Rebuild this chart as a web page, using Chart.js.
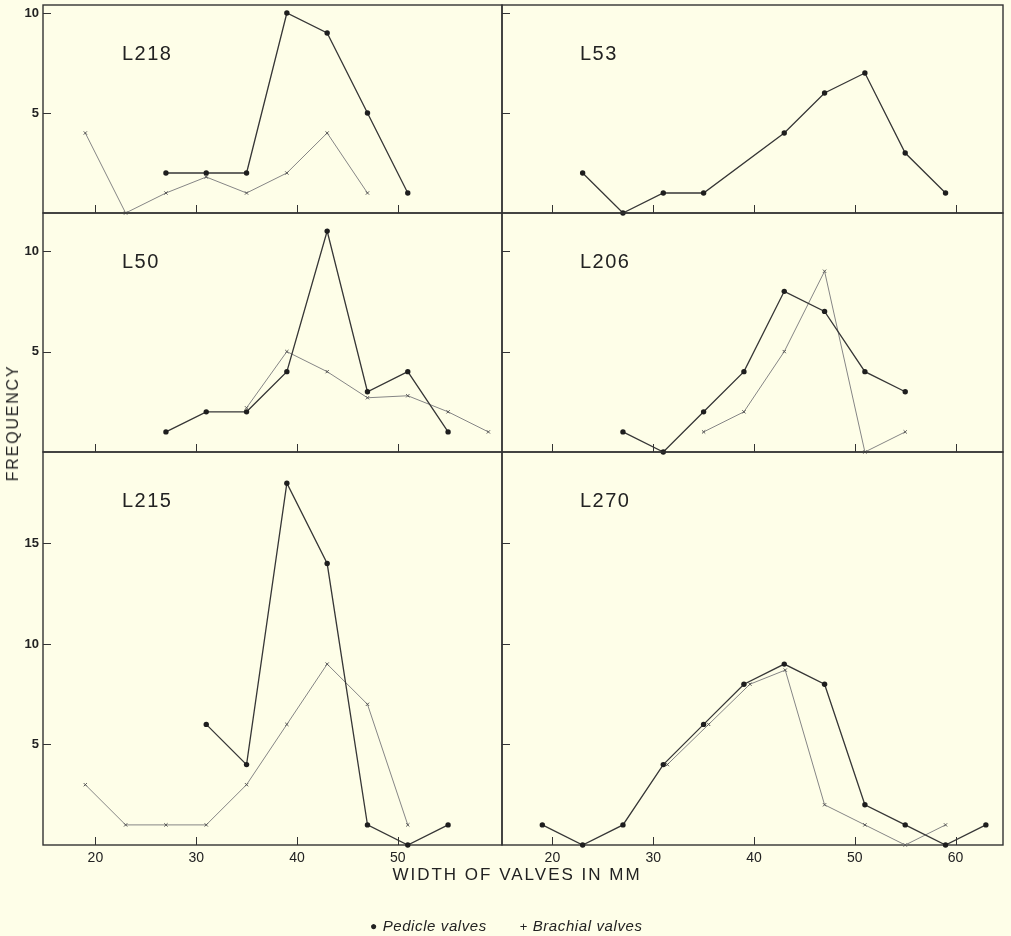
<!DOCTYPE html>
<html>
<head>
<meta charset="utf-8">
<script src="https://cdn.jsdelivr.net/npm/chart.js@4.4.0/dist/chart.umd.min.js"></script>
<style>
  body { margin: 0; background: #fefee8; }
  #fig { position: relative; width: 1011px; height: 936px; overflow: hidden;
         font-family: "Liberation Sans", Arial, sans-serif; color: #222; }
  #fig canvas { position: absolute; }
  .txt { position: absolute; white-space: nowrap; }
</style>
</head>
<body>
<div id="fig">
  <canvas id="c218"></canvas>
  <canvas id="c53"></canvas>
  <canvas id="c50"></canvas>
  <canvas id="c206"></canvas>
  <canvas id="c215"></canvas>
  <canvas id="c270"></canvas>

  <div class="txt" style="left:12.5px;top:423px;font-size:16px;letter-spacing:1.8px;transform:translate(-50%,-50%) rotate(-90deg);">FREQUENCY</div>
  <div class="txt" style="left:517px;top:875px;font-size:17px;letter-spacing:2px;transform:translate(-50%,-50%);">WIDTH OF VALVES IN MM</div>
  <div class="txt" style="left:370px;top:917px;font-size:15px;font-style:italic;letter-spacing:0.6px;">
    <span style="font-style:normal;font-size:12px;position:relative;top:-1px;">&#9679;</span>&nbsp;Pedicle valves
    <span style="display:inline-block;width:28px"></span><span style="font-style:normal;font-size:13px;">+</span>&nbsp;Brachial valves
  </div>
</div>

<script>
/* ---------- data: frequency by valve width (mm) ---------- */
const l218PedW = [27, 31, 35, 39, 43, 47, 51];
const l218Ped  = [2, 2, 2, 10, 9, 5, 1];
const l218BraW = [19, 23, 27, 31, 35, 39, 43, 47];
const l218Bra  = [4, 0, 1, 1.8, 1, 2, 4, 1];

const l53PedW = [23, 27, 31, 35, 43, 47, 51, 55, 59];
const l53Ped  = [2, 0, 1, 1, 4, 6, 7, 3, 1];

const l50PedW = [27, 31, 35, 39, 43, 47, 51, 55];
const l50Ped  = [1, 2, 2, 4, 11, 3, 4, 1];
const l50BraW = [35, 39, 43, 47, 51, 55, 59];
const l50Bra  = [2.2, 5, 4, 2.7, 2.8, 2, 1];

const l206PedW = [27, 31, 35, 39, 43, 47, 51, 55];
const l206Ped  = [1, 0, 2, 4, 8, 7, 4, 3];
const l206BraW = [35, 39, 43, 47, 51, 55];
const l206Bra  = [1, 2, 5, 9, 0, 1];

const l215PedW = [31, 35, 39, 43, 47, 51, 55];
const l215Ped  = [6, 4, 18, 14, 1, 0, 1];
const l215BraW = [19, 23, 27, 31, 35, 39, 43, 47, 51];
const l215Bra  = [3, 1, 1, 1, 3, 6, 9, 7, 1];

const l270PedW = [19, 23, 27, 31, 35, 39, 43, 47, 51, 55, 59, 63];
const l270Ped  = [1, 0, 1, 4, 6, 8, 9, 8, 2, 1, 0, 1];
const l270BraW = [31.4, 35.5, 39.6, 43.1, 47, 51, 55, 59];
const l270Bra  = [4, 6, 8, 8.7, 2, 1, 0, 1];

/* ticks */
const xTicksLeft  = [20, 30, 40, 50];
const xTicksRight = [20, 30, 40, 50, 60];
const yTicksTop = [5, 10];
const yTicksMid = [5, 10];
const yTicksLow = [5, 10, 15];

/* ---------- layout ---------- */
Chart.defaults.font.family = '"Liberation Sans", Arial, sans-serif';
Chart.defaults.color = '#222';

const COLS = {
  left:  { left: 0,   width: 505, padL: 0, xMin: 14.8, xMax: 60.35, xTicks: xTicksLeft },
  right: { left: 499, width: 507, padL: 3, xMin: 15.0, xMax: 64.7,  xTicks: xTicksRight },
};
const ROWS = {
  top: { top: 2,   height: 214, padB: 3, yMax: 10.4,  yTicks: yTicksTop },
  mid: { top: 210, height: 245, padB: 3, yMax: 11.9,  yTicks: yTicksMid },
  low: { top: 449, height: 422, padB: 0, yMax: 19.55, yTicks: yTicksLow },
};

const pts = (w, f) => w.map((x, i) => ({ x, y: f[i] }));

function pedicle(w, f) {
  return { data: pts(w, f), showLine: true, borderColor: '#363636', borderWidth: 1.3,
           pointStyle: 'circle', pointRadius: 2.7, pointBackgroundColor: '#1e1e1e',
           pointBorderWidth: 0, clip: 8 };
}
function brachial(w, f) {
  return { data: pts(w, f), showLine: true, borderColor: '#858585', borderWidth: 1,
           pointStyle: 'crossRot', pointRadius: 2.3, pointBorderColor: '#555',
           pointBorderWidth: 1, clip: 8 };
}

function makePanel(id, label, col, row, datasets) {
  const c = COLS[col], r = ROWS[row];
  const cv = document.getElementById(id);
  cv.width = c.width; cv.height = r.height;
  cv.style.left = c.left + 'px'; cv.style.top = r.top + 'px';

  const showY = col === 'left', showX = row === 'low';

  // frame, inward tick marks and panel label
  const frame = {
    id: 'frame_' + id,
    beforeDatasetsDraw(chart) {
      const { ctx, chartArea: a, scales: { x, y } } = chart;
      ctx.save();
      ctx.strokeStyle = '#333';
      ctx.lineWidth = 1.4;
      ctx.strokeRect(a.left, a.top, a.right - a.left, a.bottom - a.top);
      ctx.lineWidth = 1;
      ctx.beginPath();
      c.xTicks.forEach(v => {
        const px = Math.round(x.getPixelForValue(v)) + 0.5;
        ctx.moveTo(px, a.bottom); ctx.lineTo(px, a.bottom - 8);
      });
      r.yTicks.forEach(v => {
        const py = Math.round(y.getPixelForValue(v)) + 0.5;
        ctx.moveTo(a.left, py); ctx.lineTo(a.left + 8, py);
      });
      ctx.stroke();
      ctx.fillStyle = '#222';
      ctx.font = '20px "Liberation Sans", Arial, sans-serif';
      ctx.letterSpacing = '1.5px';
      ctx.fillText(label, a.left + (col === 'left' ? 79 : 78), a.top + 55);
      ctx.restore();
    }
  };

  new Chart(cv, {
    type: 'scatter',
    data: { datasets },
    plugins: [frame],
    options: {
      responsive: false, animation: false, devicePixelRatio: 1,
      layout: { autoPadding: false, padding: { left: c.padL, right: 3, top: 3, bottom: r.padB } },
      plugins: { legend: { display: false }, tooltip: { enabled: false } },
      scales: {
        x: {
          type: 'linear', min: c.xMin, max: c.xMax, display: showX,
          grid: { display: false, drawTicks: false }, border: { display: false },
          ticks: { padding: 5, font: { size: 14 }, color: '#222' },
          afterBuildTicks: s => { s.ticks = c.xTicks.map(v => ({ value: v })); },
          afterFit: s => { s.height = showX ? 26 : 0; s.paddingLeft = 0; s.paddingRight = 0; },
        },
        y: {
          type: 'linear', min: 0, max: r.yMax, display: showY,
          grid: { display: false, drawTicks: false }, border: { display: false },
          ticks: { padding: 4, font: { size: 13, weight: 'bold' }, color: '#222' },
          afterBuildTicks: s => { s.ticks = r.yTicks.map(v => ({ value: v })); },
          afterFit: s => { s.width = showY ? 43 : 0; s.paddingTop = 0; s.paddingBottom = 0; },
        },
      },
    },
  });
}

makePanel('c218', 'L218', 'left',  'top', [pedicle(l218PedW, l218Ped), brachial(l218BraW, l218Bra)]);
makePanel('c53',  'L53',  'right', 'top', [pedicle(l53PedW, l53Ped)]);
makePanel('c50',  'L50',  'left',  'mid', [pedicle(l50PedW, l50Ped), brachial(l50BraW, l50Bra)]);
makePanel('c206', 'L206', 'right', 'mid', [pedicle(l206PedW, l206Ped), brachial(l206BraW, l206Bra)]);
makePanel('c215', 'L215', 'left',  'low', [pedicle(l215PedW, l215Ped), brachial(l215BraW, l215Bra)]);
makePanel('c270', 'L270', 'right', 'low', [pedicle(l270PedW, l270Ped), brachial(l270BraW, l270Bra)]);
</script>
</body>
</html>
